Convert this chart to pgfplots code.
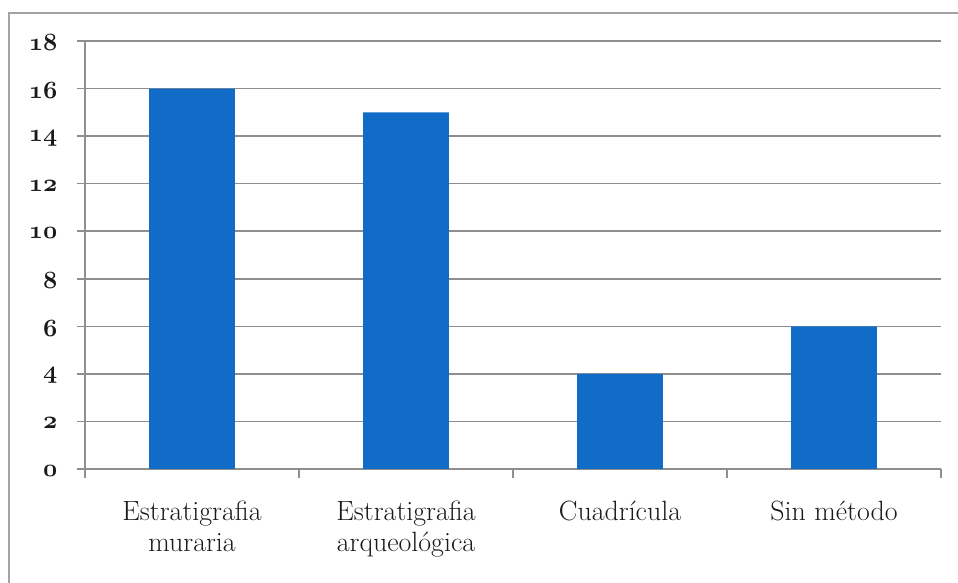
\documentclass[border=0pt]{standalone}
\usepackage{pgfplots}
\pgfplotsset{compat=1.18}
\definecolor{barblue}{HTML}{106CC6}
\definecolor{gridgray}{HTML}{8E8E8E}
\definecolor{framegray}{HTML}{A3A3A3}
\definecolor{txt}{HTML}{1A1A1A}
% old-style figures for the value axis
\newcommand{\osn}[1]{{\fontencoding{OML}\fontfamily{cmm}\fontseries{b}\fontshape{it}\fontsize{23}{27}\selectfont #1}}
\begin{document}
\begin{tikzpicture}[x=1bp,y=1bp]
\useasboundingbox (0,0) rectangle (958,583);
% outer chart frame (left and top edges)
\draw[framegray, line width=2bp] (9,-10) -- (9,570) -- (970,570);
\begin{axis}[
  at={(85bp,114bp)}, anchor=south west,
  scale only axis, width=856bp, height=428bp,
  xmin=-0.5, xmax=3.5, ymin=0, ymax=18,
  axis lines*=left,
  axis line style={gridgray, line width=1.5bp},
  tick align=outside,
  ytick={0,2,...,18},
  yticklabels={\osn{0},\osn{2},\osn{4},\osn{6},\osn{8},\osn{10},\osn{12},\osn{14},\osn{16},\osn{18}},
  ymajorgrids,
  grid style={gridgray, line width=1.5bp},
  major y tick style={gridgray, line width=1.5bp},
  major tick length=8bp,
  yticklabel style={text=txt, anchor=east, xshift=-16bp, yshift=-2bp},
  xtick={0,1,2,3},
  xticklabels={Estratigrafia\\muraria, Estratigrafia\\arqueológica, Cuadrícula, Sin método},
  major x tick style={draw=none},
  xticklabel style={font=\fontsize{28}{32}\selectfont, text=txt, align=center, anchor=north, yshift=-20bp},
  extra x ticks={-0.5,0.5,1.5,2.5,3.5},
  extra x tick labels={},
  extra x tick style={major x tick style={draw=gridgray, line width=1.5bp}, major tick length=9bp},
  ybar, bar width=0.4,
]
\addplot[fill=barblue, draw=none] coordinates {(0,16) (1,15) (2,4) (3,6)};
\end{axis}
\end{tikzpicture}
\end{document}
